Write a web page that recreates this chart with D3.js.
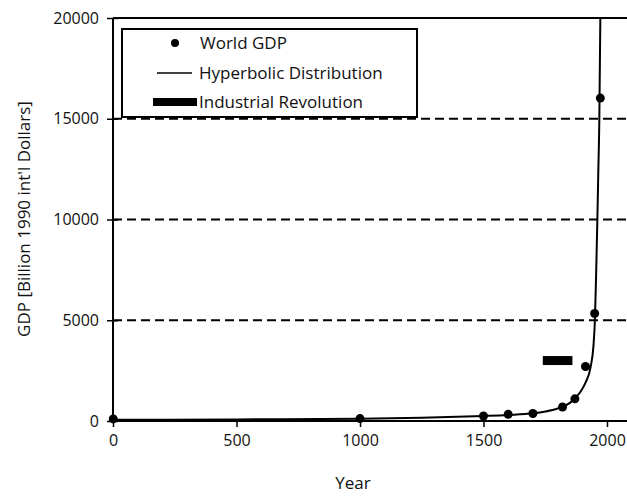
<!DOCTYPE html>
<html>
<head>
<meta charset="utf-8">
<script src="https://cdn.jsdelivr.net/npm/d3@7"></script>
<style>
  body { margin: 0; background: #fff; }
  svg { display: block; font-family: "Open Sans", sans-serif; }
</style>
</head>
<body>
<div id="chart"></div>
<script>
// World GDP (Maddison), billion 1990 int'l dollars
var years = [1, 1000, 1500, 1600, 1700, 1820, 1870, 1913, 1950, 1973];
var gdp = [105, 121, 248, 332, 371, 694, 1101, 2705, 5336, 16024];

// hyperbolic fit, points
var hypYears = [0, 500, 1000, 1250, 1500, 1600, 1700, 1750, 1800, 1850, 1890, 1913, 1934, 1945, 1951, 1956, 1961, 1965, 1969, 1973];
var hypGdp = [60, 80, 115, 165, 250, 300, 380, 470, 620, 900, 1400, 1900, 2700, 3700, 5000, 7300, 10000, 12500, 15000, 20000];

// industrial revolution marker
var indYears = [1740, 1860];
var indLevel = 3000;

var xTicks = [0, 500, 1000, 1500, 2000];
var yTicks = [0, 5000, 10000, 15000, 20000];
var gridTicks = [5000, 10000, 15000];

var width = 627, height = 496;
var plotLeft = 113, plotTop = 18, plotBottom = 421;

var svg = d3.select("#chart").append("svg")
  .attr("width", width)
  .attr("height", height);

var x = d3.scaleLinear().domain([0, 2000]).range([plotLeft, 607]);
var y = d3.scaleLinear().domain([0, 20000]).range([plotBottom, plotTop]);

svg.append("defs").append("clipPath").attr("id", "plot")
  .append("rect")
  .attr("x", plotLeft).attr("y", plotTop)
  .attr("width", width - plotLeft).attr("height", plotBottom - plotTop);

// dashed grid
svg.selectAll("line.grid")
  .data(gridTicks)
  .enter().append("line")
  .attr("class", "grid")
  .attr("x1", plotLeft).attr("x2", width)
  .attr("y1", function(d){ return y(d); })
  .attr("y2", function(d){ return y(d); })
  .attr("stroke", "#000")
  .attr("stroke-width", 2)
  .attr("stroke-dasharray", "9,5");

// top frame line
svg.append("line")
  .attr("x1", plotLeft).attr("x2", width)
  .attr("y1", plotTop).attr("y2", plotTop)
  .attr("stroke", "#000").attr("stroke-width", 2);

// axes
var fmt = d3.format("d");
var xAxis = svg.append("g")
  .attr("transform", "translate(0," + plotBottom + ")")
  .call(d3.axisBottom(x).tickValues(xTicks).tickFormat(fmt).tickSize(6).tickPadding(8));
var yAxis = svg.append("g")
  .attr("transform", "translate(" + plotLeft + ",0)")
  .call(d3.axisLeft(y).tickValues(yTicks).tickFormat(fmt).tickSize(6).tickPadding(8));

[xAxis, yAxis].forEach(function(g){
  g.select(".domain").attr("stroke", "#000").attr("stroke-width", 2);
  g.selectAll(".tick line").attr("stroke", "#000").attr("stroke-width", 1.5);
  g.selectAll(".tick text")
    .attr("fill", "#111")
    .style("font-size", "16px")
    .style("font-family", "'Open Sans', sans-serif");
});
// y ticks cross the axis
yAxis.selectAll(".tick line").attr("x1", 5);
yAxis.select(".domain").attr("d", "M0," + plotBottom + "V" + plotTop);
xAxis.select(".domain").attr("d", "M" + plotLeft + ",0H" + width);

var plot = svg.append("g").attr("clip-path", "url(#plot)");

// hyperbolic curve
var hyp = hypYears.map(function(d, i){ return [d, hypGdp[i]]; });
plot.append("path")
  .datum(hyp)
  .attr("fill", "none")
  .attr("stroke", "#000")
  .attr("stroke-width", 2)
  .attr("d", d3.line()
    .x(function(d){ return x(d[0]); })
    .y(function(d){ return y(d[1]); })
    .curve(d3.curveMonotoneX));

// industrial revolution bar
svg.append("line")
  .attr("x1", x(indYears[0])).attr("x2", x(indYears[1]))
  .attr("y1", y(indLevel)).attr("y2", y(indLevel))
  .attr("stroke", "#000")
  .attr("stroke-width", 9);

// data points
svg.selectAll("circle.pt")
  .data(years)
  .enter().append("circle")
  .attr("class", "pt")
  .attr("cx", function(d){ return x(d); })
  .attr("cy", function(d, i){ return y(gdp[i]); })
  .attr("r", 4.5)
  .attr("fill", "#000");

// legend
var lg = svg.append("g");
lg.append("rect")
  .attr("x", 122).attr("y", 29)
  .attr("width", 295).attr("height", 88)
  .attr("fill", "#fff")
  .attr("stroke", "#000")
  .attr("stroke-width", 2);
lg.append("circle").attr("cx", 175).attr("cy", 43).attr("r", 4).attr("fill", "#000");
lg.append("line").attr("x1", 157).attr("x2", 192).attr("y1", 73).attr("y2", 73)
  .attr("stroke", "#000").attr("stroke-width", 1.5);
lg.append("line").attr("x1", 153).attr("x2", 197).attr("y1", 102).attr("y2", 102)
  .attr("stroke", "#000").attr("stroke-width", 8);
var labels = ["World GDP", "Hyperbolic Distribution", "Industrial Revolution"];
var rowY = [43, 73, 102];
lg.selectAll("text")
  .data(labels)
  .enter().append("text")
  .attr("x", function(d, i){ return i === 0 ? 200 : 199; })
  .attr("y", function(d, i){ return rowY[i]; })
  .attr("dy", "0.35em")
  .style("font-size", "17px")
  .attr("fill", "#111")
  .text(function(d){ return d; });

// axis titles
svg.append("text")
  .attr("x", 353).attr("y", 489)
  .attr("text-anchor", "middle")
  .style("font-size", "17px")
  .attr("fill", "#111")
  .text("Year");
svg.append("text")
  .attr("transform", "translate(30,219) rotate(-90)")
  .attr("text-anchor", "middle")
  .style("font-size", "17px")
  .attr("fill", "#111")
  .text("GDP [Billion 1990 int'l Dollars]");
</script>
</body>
</html>
